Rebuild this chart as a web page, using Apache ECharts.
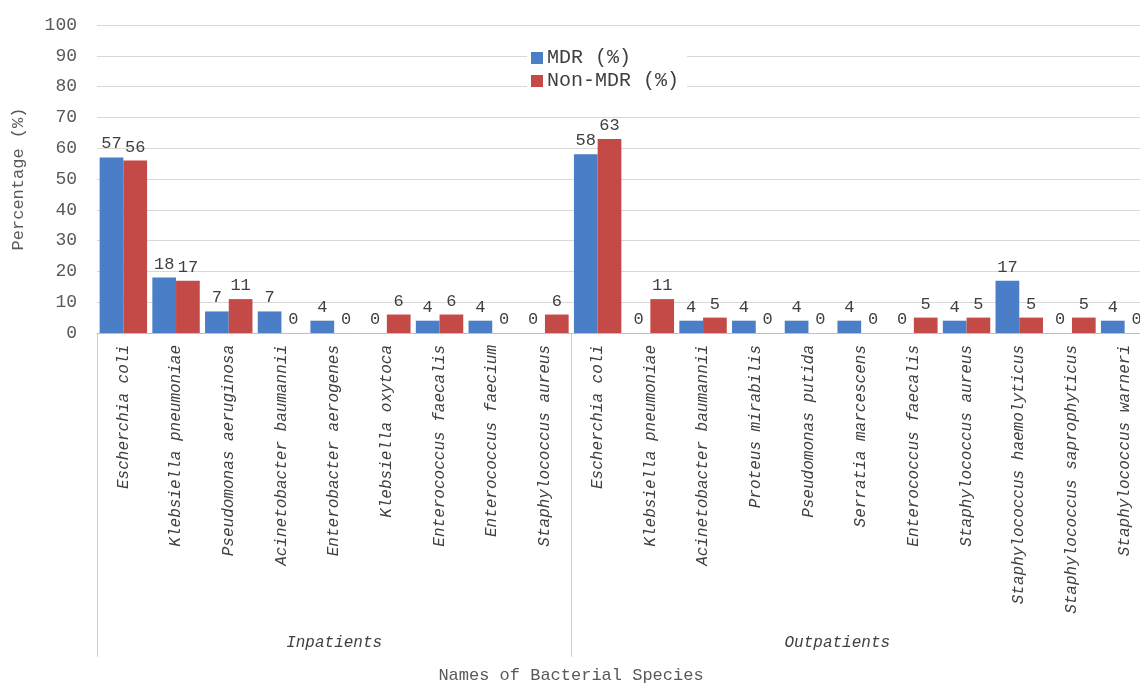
<!DOCTYPE html>
<html>
<head>
<meta charset="utf-8">
<script src="https://cdn.jsdelivr.net/npm/echarts@6/dist/echarts.min.js"></script>
<style>
  html, body { margin: 0; padding: 0; background: #ffffff; }
  #chart { width: 1140px; height: 686px; }
</style>
</head>
<body>
<div id="chart"></div>
<script>
// Bacterial species isolated, grouped by patient type
const inpatientSpecies = [
  'Escherchia coli', 'Klebsiella pneumoniae', 'Pseudomonas aeruginosa',
  'Acinetobacter baumannii', 'Enterobacter aerogenes', 'Klebsiella oxytoca',
  'Enterococcus faecalis', 'Enterococcus faecium', 'Staphylococcus aureus'
];
const outpatientSpecies = [
  'Escherchia coli', 'Klebsiella pneumoniae', 'Acinetobacter baumannii',
  'Proteus mirabilis', 'Pseudomonas putida', 'Serratia marcescens',
  'Enterococcus faecalis', 'Staphylococcus aureus', 'Staphylococcus haemolyticus',
  'Staphylococcus saprophyticus', 'Staphylococcus warneri'
];
const groupNames = ['Inpatients', 'Outpatients'];

// Percentages per species
const inpatientMDR    = [57, 18, 7, 7, 4, 0, 4, 4, 0];
const inpatientNonMDR = [56, 17, 11, 0, 0, 6, 6, 0, 6];
const outpatientMDR    = [58, 0, 4, 4, 4, 4, 0, 4, 17, 0, 4];
const outpatientNonMDR = [63, 11, 5, 0, 0, 0, 5, 5, 5, 5, 0];

const yTicks = { min: 0, max: 100, interval: 10 };

const categories = inpatientSpecies.concat(outpatientSpecies);
const mdr = inpatientMDR.concat(outpatientMDR);
const nonMdr = inpatientNonMDR.concat(outpatientNonMDR);

const FONT = '"Liberation Mono", "DejaVu Sans Mono", monospace';
const GRID_LEFT = 97, GRID_TOP = 25, GRID_WIDTH = 1054, GRID_HEIGHT = 308;

const chart = echarts.init(document.getElementById('chart'));

const valueLabel = {
  show: true,
  position: 'top',
  distance: 5,
  fontFamily: FONT,
  fontSize: 17,
  color: '#404040'
};

chart.setOption({
  animation: false,
  backgroundColor: '#ffffff',
  textStyle: { fontFamily: FONT },
  grid: {
    left: GRID_LEFT, top: GRID_TOP, width: GRID_WIDTH, height: GRID_HEIGHT,
    containLabel: false,
    outerBoundsMode: 'none'
  },
  legend: {
    orient: 'vertical',
    left: 527,
    top: 45,
    padding: [3, 8, 3, 4],
    backgroundColor: '#ffffff',
    itemWidth: 12,
    itemHeight: 12,
    itemGap: 3,
    icon: 'rect',
    textStyle: { fontFamily: FONT, fontSize: 20, color: '#404040', padding: [0, 0, 0, -1] },
    data: ['MDR (%)', 'Non-MDR (%)']
  },
  xAxis: {
    type: 'category',
    data: categories,
    axisLine: { lineStyle: { color: '#bfbfbf', width: 1 } },
    axisTick: { show: false },
    axisLabel: {
      interval: 0,
      rotate: 90,
      margin: 12,
      fontFamily: FONT,
      fontStyle: 'italic',
      fontSize: 16,
      color: '#404040'
    },
    splitLine: { show: false }
  },
  yAxis: {
    type: 'value',
    min: yTicks.min,
    max: yTicks.max,
    interval: yTicks.interval,
    name: 'Percentage (%)',
    nameLocation: 'middle',
    nameGap: 70,
    nameTextStyle: { fontFamily: FONT, fontSize: 17, color: '#595959' },
    axisLine: { show: false },
    axisTick: { show: false },
    axisLabel: { margin: 20, fontFamily: FONT, fontSize: 18, color: '#595959' },
    splitLine: { lineStyle: { color: '#d9d9d9', width: 1 } }
  },
  series: [
    {
      name: 'MDR (%)',
      type: 'bar',
      data: mdr,
      barGap: '0%',
      barCategoryGap: '10%',
      itemStyle: { color: '#4a7ec6' },
      label: valueLabel
    },
    {
      name: 'Non-MDR (%)',
      type: 'bar',
      data: nonMdr,
      itemStyle: { color: '#c44a48' },
      label: valueLabel
    }
  ]
});

// Group separators and group labels below the category labels
function drawGroups() {
  const band = GRID_WIDTH / categories.length;
  const axisY = GRID_TOP + GRID_HEIGHT;
  const lineBottom = 657;
  const bounds = [0, inpatientSpecies.length, categories.length].map(function (i) {
    return chart.convertToPixel({ xAxisIndex: 0 }, i === categories.length ? i - 1 : i) +
      (i === categories.length ? band / 2 : -band / 2);
  });
  const elements = bounds.map(function (x) {
    return {
      type: 'line',
      shape: { x1: Math.round(x) + 0.5, y1: axisY, x2: Math.round(x) + 0.5, y2: lineBottom },
      style: { stroke: '#d0d0d0', lineWidth: 1 }
    };
  });
  const groupCenters = [
    (bounds[0] + bounds[1]) / 2,
    bounds[1] + 266
  ];
  groupNames.forEach(function (name, i) {
    elements.push({
      type: 'text',
      x: groupCenters[i],
      y: 643,
      style: {
        text: name,
        fontFamily: FONT,
        fontStyle: 'italic',
        fontSize: 16,
        fill: '#404040',
        align: 'center',
        verticalAlign: 'middle'
      }
    });
  });
  elements.push({
    type: 'text',
    x: chart.getWidth() / 2 + 1,
    y: 675,
    style: {
      text: 'Names of Bacterial Species',
      fontFamily: FONT,
      fontSize: 17,
      fill: '#595959',
      align: 'center',
      verticalAlign: 'middle'
    }
  });
  chart.setOption({ graphic: { elements: elements } });
}
drawGroups();
</script>
</body>
</html>
